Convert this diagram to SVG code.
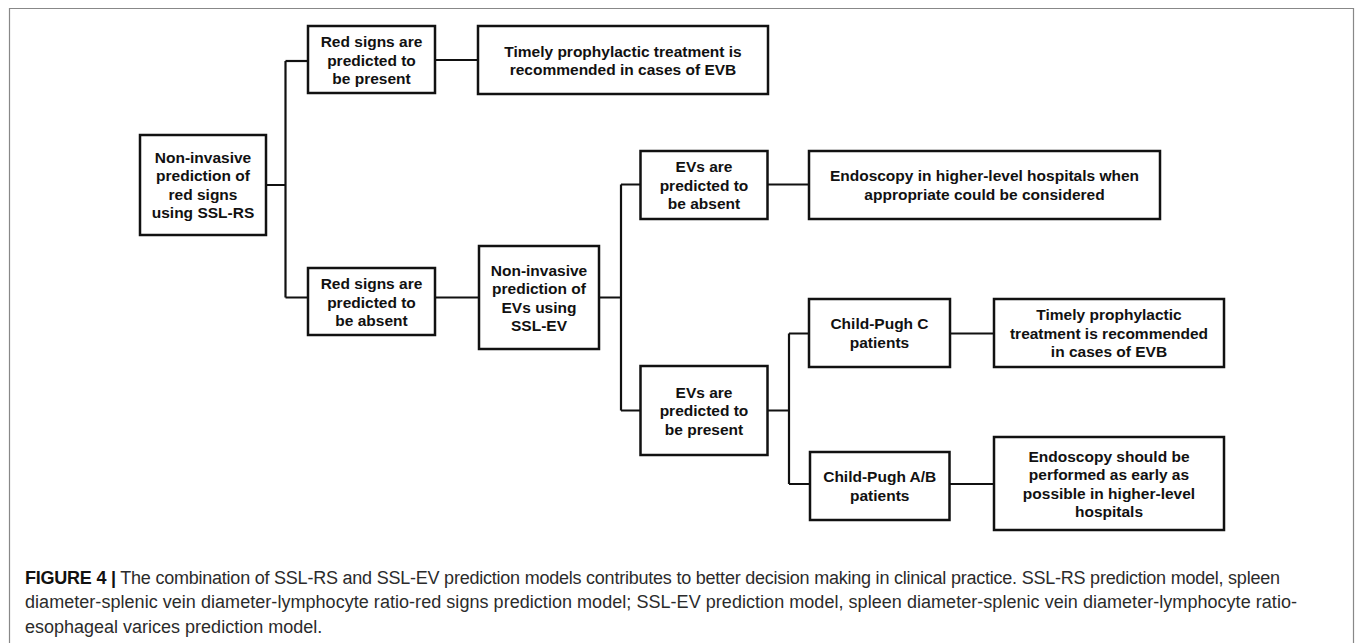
<svg xmlns="http://www.w3.org/2000/svg" width="1355" height="643" viewBox="0 0 1355 643">
<style>
.box{fill:#fff;stroke:#111;stroke-width:2.5}
.lbl{font-family:"Liberation Sans",Arial,sans-serif;font-weight:bold;font-size:15.5px;fill:#111;text-anchor:middle}
.con{fill:none;stroke:#111;stroke-width:2.2}
.cap{font-family:"Liberation Sans",Arial,sans-serif;font-size:18px;fill:#2b2b2b}
</style>
<rect width="1355" height="643" fill="#fff"/>
<path d="M9.5,643 V8.5 H1353.5 V643" fill="none" stroke="#888" stroke-width="1.2"/>
<g id="connectors">
<path class="con" d="M266,185 H285.5 M285.5,61 V297.5 M285.5,297.5 H308"/>
<path class="con" d="M285.5,61 H308" stroke="#4a5c78"/>
<path class="con" d="M435,60 H478"/>
<path class="con" d="M435,297.5 H479"/>
<path class="con" d="M599,297.5 H621 M621,184.5 V410.5 M621,184.5 H640.5 M621,410.5 H640.5"/>
<path class="con" d="M767.5,184.5 H809"/>
<path class="con" d="M767.5,410.5 H789 M789,333.5 V484 M789,333.5 H809 M789,484 H810"/>
<path class="con" d="M950,333.5 H994"/>
<path class="con" d="M949.5,484 H994"/>
</g>
<g id="n1"><rect class="box" x="140" y="135" width="126" height="100"/>
<text class="lbl"><tspan x="203" y="162.8">Non-invasive</tspan><tspan x="203" y="181.3">prediction of</tspan><tspan x="203" y="199.8">red signs</tspan><tspan x="203" y="218.3">using SSL-RS</tspan></text></g>
<g id="n2"><rect class="box" x="308" y="26" width="127" height="67"/>
<text class="lbl"><tspan x="371.5" y="47.3">Red signs are</tspan><tspan x="371.5" y="65.8">predicted to</tspan><tspan x="371.5" y="84.3">be present</tspan></text></g>
<g id="n3"><rect class="box" x="478" y="26" width="290" height="68"/>
<text class="lbl"><tspan x="623" y="56.5">Timely prophylactic treatment is</tspan><tspan x="623" y="75">recommended in cases of EVB</tspan></text></g>
<g id="n4"><rect class="box" x="308" y="268" width="127" height="67"/>
<text class="lbl"><tspan x="371.5" y="289">Red signs are</tspan><tspan x="371.5" y="307.5">predicted to</tspan><tspan x="371.5" y="326">be absent</tspan></text></g>
<g id="n5"><rect class="box" x="479" y="246" width="120" height="103"/>
<text class="lbl"><tspan x="539" y="275.5">Non-invasive</tspan><tspan x="539" y="294">prediction of</tspan><tspan x="539" y="312.5">EVs using</tspan><tspan x="539" y="331">SSL-EV</tspan></text></g>
<g id="n6"><rect class="box" x="640.5" y="151" width="127" height="68"/>
<text class="lbl"><tspan x="704" y="172">EVs are</tspan><tspan x="704" y="190.5">predicted to</tspan><tspan x="704" y="209">be absent</tspan></text></g>
<g id="n7"><rect class="box" x="809" y="151" width="351" height="68"/>
<text class="lbl"><tspan x="984.5" y="181.2">Endoscopy in higher-level hospitals when</tspan><tspan x="984.5" y="199.7">appropriate could be considered</tspan></text></g>
<g id="n8"><rect class="box" x="640.5" y="366" width="127" height="89"/>
<text class="lbl"><tspan x="704" y="397.7">EVs are</tspan><tspan x="704" y="416.2">predicted to</tspan><tspan x="704" y="434.7">be present</tspan></text></g>
<g id="n9"><rect class="box" x="809" y="299" width="141" height="68"/>
<text class="lbl"><tspan x="879.5" y="329.3">Child-Pugh C</tspan><tspan x="879.5" y="347.8">patients</tspan></text></g>
<g id="n10"><rect class="box" x="810" y="452" width="139.5" height="68"/>
<text class="lbl"><tspan x="879.75" y="482.3">Child-Pugh A/B</tspan><tspan x="879.75" y="500.8">patients</tspan></text></g>
<g id="n11"><rect class="box" x="994" y="299" width="230" height="68"/>
<text class="lbl"><tspan x="1109" y="320">Timely prophylactic</tspan><tspan x="1109" y="338.5">treatment is recommended</tspan><tspan x="1109" y="357">in cases of EVB</tspan></text></g>
<g id="n12"><rect class="box" x="994" y="437" width="230" height="93"/>
<text class="lbl"><tspan x="1109" y="461.5">Endoscopy should be</tspan><tspan x="1109" y="480">performed as early as</tspan><tspan x="1109" y="498.5">possible in higher-level</tspan><tspan x="1109" y="517">hospitals</tspan></text></g>
<g id="caption">
<text class="cap" x="25" y="583.5" textLength="1255" lengthAdjust="spacing"><tspan font-weight="bold" fill="#111">FIGURE 4 |</tspan> The combination of SSL-RS and SSL-EV prediction models contributes to better decision making in clinical practice. SSL-RS prediction model, spleen</text>
<text class="cap" x="25" y="608" textLength="1272" lengthAdjust="spacing">diameter-splenic vein diameter-lymphocyte ratio-red signs prediction model; SSL-EV prediction model, spleen diameter-splenic vein diameter-lymphocyte ratio-</text>
<text class="cap" x="25" y="632.5">esophageal varices prediction model.</text>
</g>
</svg>
